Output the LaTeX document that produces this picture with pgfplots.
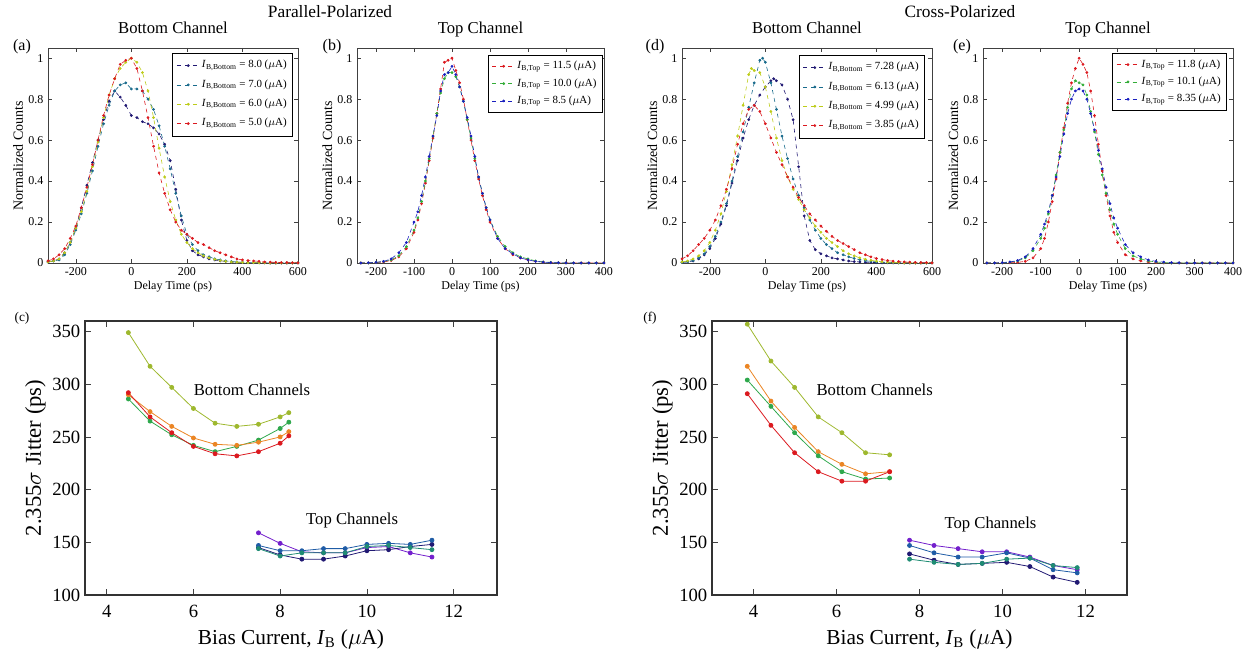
\documentclass[border=0pt]{standalone}
\usepackage{fontspec}
\setmainfont{Liberation Serif}
\usepackage{pgfplots}
\pgfplotsset{compat=1.18}
\definecolor{cnavy}{rgb}{0.13,0.10,0.45}
\definecolor{cteal}{rgb}{0.10,0.42,0.55}
\definecolor{cyg}{rgb}{0.74,0.80,0.10}
\definecolor{cred}{rgb}{0.86,0.10,0.12}
\definecolor{cgreen}{rgb}{0.20,0.68,0.22}
\definecolor{cblue}{rgb}{0.10,0.12,0.75}
\definecolor{colive}{rgb}{0.62,0.72,0.18}
\definecolor{cgrn2}{rgb}{0.18,0.66,0.30}
\definecolor{corange}{rgb}{0.92,0.52,0.14}
\definecolor{cviolet}{rgb}{0.45,0.12,0.80}
\definecolor{cblue2}{rgb}{0.12,0.36,0.65}
\definecolor{cteal2}{rgb}{0.12,0.55,0.45}
\pgfplotsset{
 topax/.style={scale only axis, width=187.5pt, height=161.25pt, anchor=south west,
   ymin=0, ymax=1.05, ytick={0,0.2,0.4,0.6,0.8,1}, yticklabels={0,0.2,0.4,0.6,0.8,1},
   axis line style={black!75}, tick style={black!75, thin}, major tick length=3pt,
   tick label style={font=\fontsize{9}{10}\selectfont},
   /pgf/number format/assume math mode=true,
   xlabel={Delay Time (ps)}, ylabel={Normalized Counts},
   xlabel style={font=\fontsize{9}{10}\selectfont, yshift=3pt},
   ylabel style={font=\fontsize{10.5}{12}\selectfont, yshift=-3pt},
   title style={font=\fontsize{12.5}{14}\selectfont, at={(0.5,1)}, anchor=base, yshift=4.5pt},
   legend cell align=left,
   legend style={font=\fontsize{8.2}{9.5}\selectfont, draw=black, anchor=north east, at={(1,1)},
     nodes={inner sep=1.5pt, text height=7pt, text depth=3pt}, row sep=0pt},
   every axis plot/.append style={dashed, line width=0.45pt, mark=*, mark size=0.8pt, mark options={solid}}},
 botax/.style={scale only axis, width=309pt, height=205.5pt, anchor=south west,
   ymin=100, ymax=360, ytick={100,150,200,250,300,350}, xtick={4,6,8,10,12}, xmax=13,
   axis line style={black!80, line width=0.8pt}, tick style={black!75, thin}, major tick length=4.5pt,
   tick label style={font=\fontsize{14}{16}\selectfont},
   xticklabel style={yshift=-4pt},
   /pgf/number format/assume math mode=true,
   xlabel={Bias Current, \textit{I}\textsubscript{B} ($\mu$A)},
   ylabel={2.355$\sigma$ Jitter (ps)},
   xlabel style={font=\fontsize{16}{18}\selectfont, yshift=-2pt},
   ylabel style={font=\fontsize{17}{19}\selectfont, yshift=-2pt},
   every axis plot/.append style={line width=0.6pt, mark=*, mark size=1.5pt}}
}
\begin{document}
\begin{tikzpicture}
\path[use as bounding box] (0pt,0pt) rectangle (942pt,499.5pt);
% (a)
\begin{axis}[topax, at={(36pt,302.25pt)}, xmin=-300, xmax=600, xtick={-200,0,200,400,600}, title={Bottom Channel},
  legend style={xshift=-3.75pt, yshift=-3.75pt, nodes={text height=7.5pt, text depth=4pt}}]
\addplot[color=cnavy] coordinates {(-300,0.005)(-280,0.01)(-260,0.02)(-240,0.05)(-220,0.10)(-200,0.17)(-180,0.27)(-160,0.38)(-140,0.49)(-120,0.60)(-100,0.70)(-80,0.79)(-60,0.84)(-40,0.81)(-20,0.77)(0,0.72)(20,0.71)(40,0.69)(60,0.68)(80,0.66)(100,0.63)(120,0.58)(140,0.50)(160,0.36)(180,0.21)(200,0.11)(220,0.06)(240,0.04)(260,0.03)(280,0.02)(300,0.015)(320,0.01)(340,0.008)(360,0.005)(380,0.004)(400,0.003)(420,0.002)(440,0.002)(460,0.001)(480,0.001)(500,0)(520,0)(540,0)(560,0)(580,0)(600,0)};
\addlegendentry{\textit{I}\textsubscript{B,Bottom} = 8.0 ($\mu$A)}
\addplot[color=cteal] coordinates {(-300,0.005)(-280,0.01)(-260,0.015)(-240,0.04)(-220,0.09)(-200,0.16)(-180,0.24)(-160,0.34)(-140,0.45)(-120,0.57)(-100,0.68)(-80,0.77)(-60,0.84)(-40,0.87)(-20,0.88)(0,0.85)(20,0.85)(40,0.84)(60,0.80)(80,0.75)(100,0.67)(120,0.57)(140,0.46)(160,0.34)(180,0.23)(200,0.14)(220,0.09)(240,0.06)(260,0.04)(280,0.03)(300,0.02)(320,0.015)(340,0.01)(360,0.007)(380,0.005)(400,0.003)(420,0.002)(440,0.002)(460,0.001)(480,0.001)(500,0)(520,0)(540,0)(560,0)(580,0)(600,0)};
\addlegendentry{\textit{I}\textsubscript{B,Bottom} = 7.0 ($\mu$A)}
\addplot[color=cyg] coordinates {(-300,0.005)(-280,0.01)(-260,0.02)(-240,0.05)(-220,0.10)(-200,0.17)(-180,0.25)(-160,0.35)(-140,0.47)(-120,0.59)(-100,0.71)(-80,0.82)(-60,0.90)(-40,0.95)(-20,0.98)(0,1.00)(20,0.98)(40,0.93)(60,0.84)(80,0.71)(100,0.56)(120,0.42)(140,0.30)(160,0.21)(180,0.14)(200,0.10)(220,0.07)(240,0.05)(260,0.035)(280,0.025)(300,0.018)(320,0.012)(340,0.008)(360,0.005)(380,0.004)(400,0.003)(420,0.002)(440,0.002)(460,0.001)(480,0.001)(500,0)(520,0)(540,0)(560,0)(580,0)(600,0)};
\addlegendentry{\textit{I}\textsubscript{B,Bottom} = 6.0 ($\mu$A)}
\addplot[color=cred] coordinates {(-300,0.01)(-280,0.02)(-260,0.04)(-240,0.07)(-220,0.12)(-200,0.18)(-180,0.27)(-160,0.37)(-140,0.48)(-120,0.60)(-100,0.72)(-80,0.82)(-60,0.90)(-40,0.97)(-20,0.99)(0,1.00)(20,0.95)(40,0.84)(60,0.71)(80,0.57)(100,0.44)(120,0.34)(140,0.26)(160,0.20)(180,0.16)(200,0.14)(220,0.12)(240,0.10)(260,0.09)(280,0.075)(300,0.06)(320,0.05)(340,0.04)(360,0.03)(380,0.02)(400,0.015)(420,0.012)(440,0.01)(460,0.008)(480,0.005)(500,0.004)(520,0.003)(540,0.002)(560,0.002)(580,0.001)(600,0.001)};
\addlegendentry{\textit{I}\textsubscript{B,Bottom} = 5.0 ($\mu$A)}
\end{axis}
% (b)
\begin{axis}[topax, at={(267.75pt,302.25pt)}, width=185.25pt, xmin=-250, xmax=400, xtick={-200,-100,0,100,200,300,400}, title={Top Channel},
  legend style={xshift=-1pt, yshift=-5pt}]
\addplot[color=cred] coordinates {(-240,0)(-220,0)(-200,0.002)(-180,0.005)(-160,0.012)(-140,0.03)(-120,0.07)(-100,0.15)(-90,0.21)(-80,0.29)(-70,0.39)(-60,0.50)(-50,0.61)(-40,0.73)(-30,0.85)(-20,0.98)(-10,0.99)(0,1.00)(10,0.94)(20,0.88)(30,0.80)(40,0.70)(50,0.60)(60,0.50)(70,0.41)(80,0.33)(90,0.26)(100,0.20)(120,0.12)(140,0.07)(160,0.04)(180,0.025)(200,0.015)(220,0.008)(240,0.004)(260,0.002)(280,0.001)(300,0)(320,0)(340,0)(360,0)(380,0)(400,0)};
\addlegendentry{\textit{I}\textsubscript{B,Top} = 11.5 ($\mu$A)}
\addplot[color=cgreen] coordinates {(-240,0)(-220,0)(-200,0.003)(-180,0.007)(-160,0.015)(-140,0.035)(-120,0.08)(-100,0.16)(-90,0.22)(-80,0.30)(-70,0.40)(-60,0.51)(-50,0.62)(-40,0.73)(-30,0.83)(-20,0.90)(-10,0.93)(0,0.93)(10,0.91)(20,0.86)(30,0.79)(40,0.70)(50,0.61)(60,0.51)(70,0.42)(80,0.34)(90,0.27)(100,0.21)(120,0.13)(140,0.08)(160,0.05)(180,0.03)(200,0.02)(220,0.01)(240,0.005)(260,0.003)(280,0.001)(300,0)(320,0)(340,0)(360,0)(380,0)(400,0)};
\addlegendentry{\textit{I}\textsubscript{B,Top} = 10.0 ($\mu$A)}
\addplot[color=cblue] coordinates {(-240,0)(-220,0.001)(-200,0.003)(-180,0.008)(-160,0.02)(-140,0.05)(-120,0.10)(-100,0.20)(-90,0.25)(-80,0.33)(-70,0.42)(-60,0.52)(-50,0.62)(-40,0.72)(-30,0.84)(-20,0.92)(-10,0.93)(0,0.96)(10,0.92)(20,0.86)(30,0.79)(40,0.71)(50,0.62)(60,0.52)(70,0.42)(80,0.34)(90,0.27)(100,0.21)(120,0.12)(140,0.07)(160,0.045)(180,0.025)(200,0.015)(220,0.008)(240,0.004)(260,0.002)(280,0.001)(300,0)(320,0)(340,0)(360,0)(380,0)(400,0)};
\addlegendentry{\textit{I}\textsubscript{B,Top} = 8.5 ($\mu$A)}
\end{axis}
% (d)
\begin{axis}[topax, at={(511.5pt,302.25pt)}, xmin=-300, xmax=600, xtick={-200,0,200,400,600}, title={Bottom Channel},
  legend style={xshift=-5.25pt, yshift=-5.25pt, nodes={text height=7.5pt, text depth=4pt}}]
\addplot[color=cnavy] coordinates {(-300,0.003)(-280,0.006)(-260,0.01)(-240,0.02)(-220,0.04)(-200,0.07)(-180,0.12)(-160,0.19)(-140,0.28)(-120,0.39)(-100,0.50)(-80,0.61)(-60,0.70)(-40,0.77)(-20,0.82)(0,0.86)(20,0.89)(30,0.90)(40,0.89)(60,0.87)(80,0.80)(100,0.70)(120,0.47)(140,0.23)(160,0.11)(180,0.065)(200,0.045)(220,0.035)(240,0.025)(260,0.02)(280,0.015)(300,0.01)(320,0.007)(340,0.005)(360,0.004)(380,0.003)(400,0.002)(420,0.001)(440,0.001)(460,0)(480,0)(500,0)(520,0)(540,0)(560,0)(580,0)(600,0)};
\addlegendentry{\textit{I}\textsubscript{B,Bottom} = 7.28 ($\mu$A)}
\addplot[color=cteal] coordinates {(-300,0.003)(-280,0.006)(-260,0.012)(-240,0.025)(-220,0.045)(-200,0.08)(-180,0.13)(-160,0.20)(-140,0.29)(-120,0.40)(-100,0.52)(-80,0.64)(-60,0.76)(-40,0.88)(-20,0.99)(-10,1.00)(0,0.98)(20,0.88)(40,0.75)(60,0.62)(80,0.51)(100,0.41)(120,0.33)(140,0.27)(160,0.21)(180,0.16)(200,0.12)(220,0.09)(240,0.07)(260,0.05)(280,0.04)(300,0.03)(320,0.022)(340,0.016)(360,0.011)(380,0.008)(400,0.005)(420,0.004)(440,0.003)(460,0.002)(480,0.001)(500,0.001)(520,0)(540,0)(560,0)(580,0)(600,0)};
\addlegendentry{\textit{I}\textsubscript{B,Bottom} = 6.13 ($\mu$A)}
\addplot[color=cyg] coordinates {(-300,0.005)(-280,0.01)(-260,0.02)(-240,0.035)(-220,0.06)(-200,0.10)(-180,0.16)(-160,0.24)(-140,0.35)(-120,0.48)(-100,0.62)(-80,0.77)(-60,0.92)(-50,0.95)(-40,0.94)(-20,0.93)(0,0.86)(20,0.74)(40,0.61)(60,0.50)(80,0.42)(100,0.36)(120,0.31)(140,0.26)(160,0.22)(180,0.18)(200,0.15)(220,0.12)(240,0.10)(260,0.08)(280,0.06)(300,0.045)(320,0.035)(340,0.025)(360,0.018)(380,0.013)(400,0.009)(420,0.006)(440,0.004)(460,0.003)(480,0.002)(500,0.001)(520,0.001)(540,0)(560,0)(580,0)(600,0)};
\addlegendentry{\textit{I}\textsubscript{B,Bottom} = 4.99 ($\mu$A)}
\addplot[color=cred] coordinates {(-300,0.02)(-280,0.035)(-260,0.06)(-240,0.09)(-220,0.12)(-200,0.16)(-180,0.21)(-160,0.28)(-140,0.36)(-120,0.46)(-100,0.58)(-80,0.68)(-60,0.75)(-40,0.77)(-20,0.74)(0,0.68)(20,0.61)(40,0.54)(60,0.48)(80,0.42)(100,0.37)(120,0.32)(140,0.28)(160,0.24)(180,0.21)(200,0.18)(220,0.155)(240,0.13)(260,0.11)(280,0.095)(300,0.08)(320,0.065)(340,0.05)(360,0.04)(380,0.03)(400,0.022)(420,0.017)(440,0.012)(460,0.009)(480,0.007)(500,0.005)(520,0.004)(540,0.003)(560,0.002)(580,0.002)(600,0.001)};
\addlegendentry{\textit{I}\textsubscript{B,Bottom} = 3.85 ($\mu$A)}
\end{axis}
% (e)
\begin{axis}[topax, at={(737.25pt,302.25pt)}, xmin=-250, xmax=400, xtick={-200,-100,0,100,200,300,400}, title={Top Channel},
  legend style={xshift=-4.5pt, yshift=-3.75pt}]
\addplot[color=cred] coordinates {(-240,0)(-220,0)(-200,0)(-180,0.001)(-160,0.003)(-140,0.008)(-120,0.025)(-100,0.07)(-90,0.12)(-80,0.20)(-70,0.30)(-60,0.41)(-50,0.54)(-40,0.66)(-30,0.78)(-20,0.88)(-10,0.95)(0,1.00)(10,0.97)(20,0.93)(30,0.84)(40,0.72)(50,0.58)(60,0.45)(70,0.33)(80,0.23)(90,0.15)(100,0.10)(120,0.04)(140,0.02)(160,0.01)(180,0.005)(200,0.002)(220,0)(240,0)(260,0)(280,0)(300,0)(320,0)(340,0)(360,0)(380,0)(400,0)};
\addlegendentry{\textit{I}\textsubscript{B,Top} = 11.8 ($\mu$A)}
\addplot[color=cgreen] coordinates {(-240,0)(-220,0)(-200,0.001)(-180,0.004)(-160,0.01)(-140,0.025)(-120,0.06)(-100,0.12)(-90,0.17)(-80,0.24)(-70,0.33)(-60,0.43)(-50,0.54)(-40,0.65)(-30,0.76)(-20,0.85)(-10,0.89)(0,0.88)(10,0.87)(20,0.82)(30,0.74)(40,0.64)(50,0.53)(60,0.43)(70,0.34)(80,0.26)(90,0.19)(100,0.14)(120,0.07)(140,0.035)(160,0.02)(180,0.01)(200,0.005)(220,0.002)(240,0)(260,0)(280,0)(300,0)(320,0)(340,0)(360,0)(380,0)(400,0)};
\addlegendentry{\textit{I}\textsubscript{B,Top} = 10.1 ($\mu$A)}
\addplot[color=cblue] coordinates {(-240,0)(-220,0)(-200,0.002)(-180,0.005)(-160,0.012)(-140,0.03)(-120,0.07)(-100,0.14)(-90,0.19)(-80,0.25)(-70,0.33)(-60,0.42)(-50,0.52)(-40,0.63)(-30,0.73)(-20,0.80)(-10,0.84)(0,0.85)(10,0.84)(20,0.80)(30,0.73)(40,0.65)(50,0.55)(60,0.46)(70,0.37)(80,0.29)(90,0.22)(100,0.17)(120,0.09)(140,0.05)(160,0.03)(180,0.015)(200,0.008)(220,0.004)(240,0.002)(260,0.001)(280,0)(300,0)(320,0)(340,0)(360,0)(380,0)(400,0)};
\addlegendentry{\textit{I}\textsubscript{B,Top} = 8.35 ($\mu$A)}
\end{axis}
% (c)
\begin{axis}[botax, at={(63.75pt,53.25pt)}, xmin=3.5]
\addplot[color=colive] coordinates {(4.5,349)(5,317)(5.5,297)(6,277)(6.5,263)(7,260)(7.5,262)(8,269)(8.2,273)};
\addplot[color=cgrn2] coordinates {(4.5,286)(5,265)(5.5,252)(6,242)(6.5,236)(7,241)(7.5,247)(8,258)(8.2,264)};
\addplot[color=corange] coordinates {(4.5,290)(5,274)(5.5,260)(6,249)(6.5,243)(7,242)(7.5,245)(8,250)(8.2,255)};
\addplot[color=cred] coordinates {(4.5,292)(5,269)(5.5,254)(6,241)(6.5,234)(7,232)(7.5,236)(8,244)(8.2,251)};
\addplot[color=cviolet] coordinates {(7.5,159)(8,149)(8.5,141)(9,140)(9.5,140)(10,145)(10.5,146)(11,140)(11.5,136)};
\addplot[color=cnavy] coordinates {(7.5,145)(8,138)(8.5,134)(9,134)(9.5,137)(10,142)(10.5,143)(11,146)(11.5,148)};
\addplot[color=cblue2] coordinates {(7.5,147)(8,142)(8.5,142)(9,144)(9.5,144)(10,148)(10.5,149)(11,148)(11.5,152)};
\addplot[color=cteal2] coordinates {(7.5,144)(8,137)(8.5,140)(9,140)(9.5,140)(10,146)(10.5,147)(11,145)(11.5,143)};
\node[font=\fontsize{12.5}{14}\selectfont] at (axis cs:7.35,295) {Bottom Channels};
\node[font=\fontsize{12.5}{14}\selectfont] at (axis cs:9.66,171) {Top Channels};
\end{axis}
% (f)
\begin{axis}[botax, at={(534pt,53.25pt)}, width=311.25pt, xmin=3]
\addplot[color=colive] coordinates {(3.85,357)(4.42,322)(4.99,297)(5.56,269)(6.13,254)(6.70,235)(7.28,233)};
\addplot[color=corange] coordinates {(3.85,317)(4.42,284)(4.99,259)(5.56,236)(6.13,224)(6.70,215)(7.28,217)};
\addplot[color=cgrn2] coordinates {(3.85,304)(4.42,279)(4.99,254)(5.56,232)(6.13,217)(6.70,210)(7.28,211)};
\addplot[color=cred] coordinates {(3.85,291)(4.42,261)(4.99,235)(5.56,217)(6.13,208)(6.70,208)(7.28,217)};
\addplot[color=cviolet] coordinates {(7.76,152)(8.35,147)(8.93,144)(9.51,141)(10.1,141)(10.66,136)(11.22,128)(11.8,124)};
\addplot[color=cblue2] coordinates {(7.76,147)(8.35,140)(8.93,136)(9.51,136)(10.1,140)(10.66,135)(11.22,124)(11.8,121)};
\addplot[color=cnavy] coordinates {(7.76,139)(8.35,133)(8.93,129)(9.51,130)(10.1,131)(10.66,127)(11.22,117)(11.8,112)};
\addplot[color=cteal2] coordinates {(7.76,134)(8.35,131)(8.93,129)(9.51,130)(10.1,134)(10.66,135)(11.22,128)(11.8,126)};
\node[font=\fontsize{12.5}{14}\selectfont] at (axis cs:6.92,295) {Bottom Channels};
\node[font=\fontsize{12.5}{14}\selectfont] at (axis cs:9.71,167) {Top Channels};
\end{axis}
% labels
\node[font=\fontsize{13}{15}\selectfont] at (247.5pt,490.5pt) {Parallel-Polarized};
\node[font=\fontsize{13}{15}\selectfont] at (720pt,490.5pt) {Cross-Polarized};
\node[font=\fontsize{12}{14}\selectfont] at (16.5pt,464.25pt) {(a)};
\node[font=\fontsize{12}{14}\selectfont] at (249pt,464.25pt) {(b)};
\node[font=\fontsize{12}{14}\selectfont] at (491.25pt,464.25pt) {(d)};
\node[font=\fontsize{12}{14}\selectfont] at (721.5pt,464.25pt) {(e)};
\node[font=\fontsize{10}{12}\selectfont] at (16.5pt,261pt) {(c)};
\node[font=\fontsize{10}{12}\selectfont] at (487.5pt,261pt) {(f)};
\end{tikzpicture}
\end{document}
